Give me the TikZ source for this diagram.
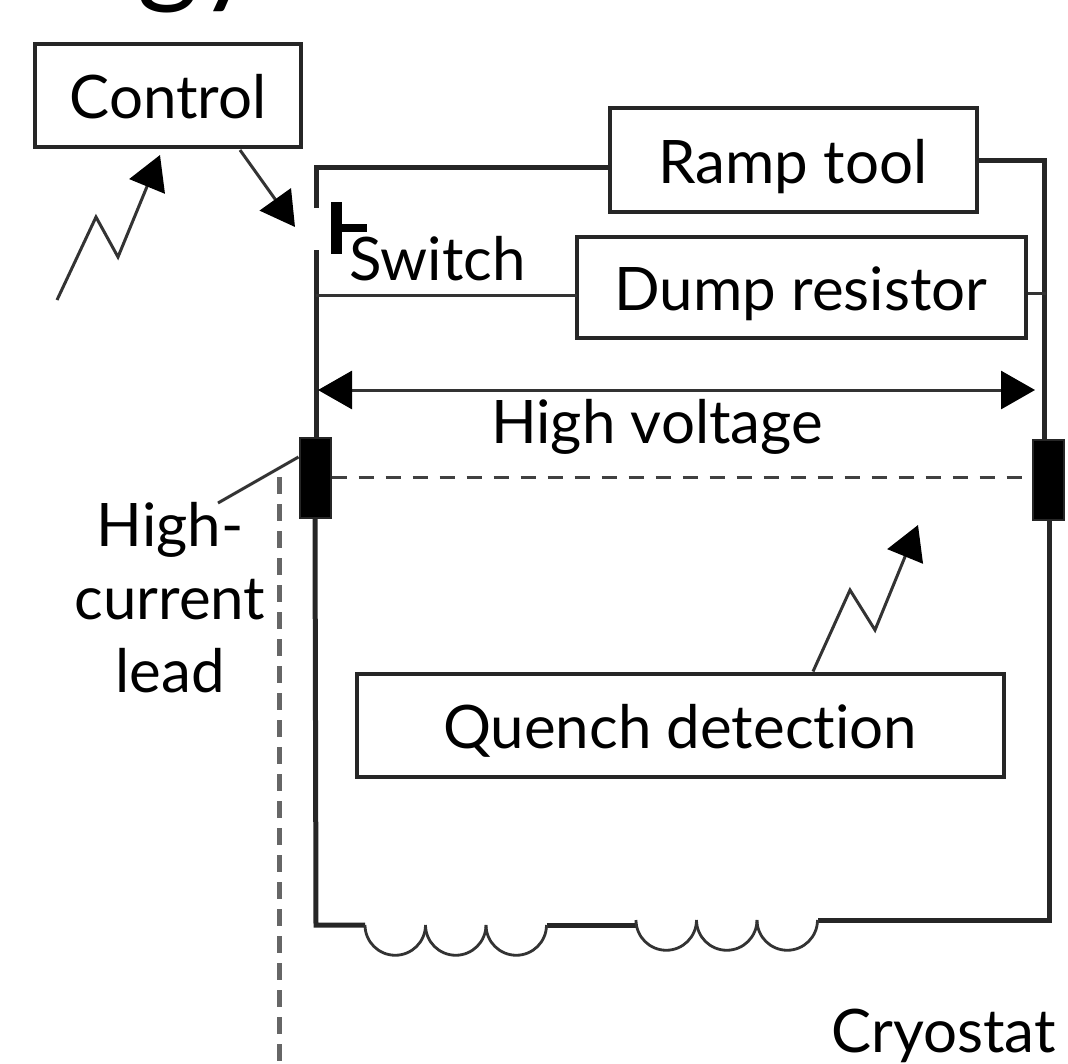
\documentclass[tikz,border=0pt]{standalone}
\usepackage{fontspec}
\setmainfont[Ligatures=NoCommon]{Lato}
\usetikzlibrary{arrows.meta,calc}
\tikzset{
  lbl/.style={inner sep=0pt,font=\fontsize{60}{73}\selectfont,align=center},
  boxnode/.style={draw=black!85,line width=4pt,inner sep=0pt,text height=46pt,text depth=0pt,font=\fontsize{60}{73}\selectfont},
  wire/.style={draw=black!85,line width=5pt},
  thinwire/.style={draw=black!80,line width=3pt},
  coilwire/.style={draw=black!80,line width=2.8pt},
  leadnode/.style={draw=black!85,fill=black,line width=2pt,inner sep=0pt,minimum width=31pt,minimum height=80pt},
  dashwire/.style={draw=black!75,line width=3pt,dash pattern=on 15pt off 12pt},
  dashlead/.style={draw=black!60,line width=5pt,dash pattern=on 17pt off 10pt},
  bigtip/.style={-{Triangle[length=34pt,width=38pt,color=black]}},
}
\begin{document}
\begin{tikzpicture}[x=1pt,y=1pt]
\useasboundingbox (0,0) rectangle (1068,-1063);
\pgfmathsetmacro{\kcoil}{60.5}
\node[overlay,inner sep=0pt,font=\fontsize{118}{118}\selectfont,anchor=base west](title) at (137,9){gy};
\node[boxnode,minimum width=266pt,minimum height=103pt](control) at (168,-95){Control};
\node[boxnode,minimum width=367pt,minimum height=104pt](ramptool) at (793,-160){Ramp tool};
\node[boxnode,minimum width=449pt,minimum height=101pt](dumpres) at (801,-287){Dump resistor};
\node[boxnode,minimum width=647pt,minimum height=103pt](quench) at (680,-725){Quench detection};
\node[leadnode](leadleft) at (315,-478){};
\node[leadnode](leadright) at (1048,-480){};
\node[lbl,anchor=base west](switchlbl) at (349,-280){Switch};
\node[lbl](hvlbl) at (657,-427){High voltage};
\node[lbl](leadlbl) at (170,-598){High-\\current\\lead};
\node[lbl,anchor=base east](cryolbl) at (1056,-1052){Cryostat};
\coordinate (topleft) at (316,-167);
\coordinate (swupper) at (316,-208);
\coordinate (swlower) at (316,-250);
\coordinate (botleft) at (316,-925);
\coordinate (topright) at (1044,-160);
\coordinate (botright) at (1049,-920);
\coordinate (coilA) at (365,-925);
\coordinate (coilB) at (636,-925);
\coordinate (coilC) at (636,-920);
%wires
\draw[wire](swupper)--(topleft)--(topleft-|ramptool.west);
\draw[wire](ramptool.east|-topright)--(topright)--(topright|-leadright.north);
\draw[wire](swlower)--(swlower|-leadleft.north);
\draw[wire](leadleft.south)--(botleft)--(coilA);
\draw[wire](leadright.south-|botright)--(botright)--($(coilC)+(3*\kcoil,0)$);
\draw[wire]($(coilA)+(3*\kcoil,0)$)--(coilB);
\draw[thinwire](swlower|-dumpres.west)++(0,-8)--++(261,0);
\draw[thinwire](dumpres.east)++(0,-6)--++(18,0);
\foreach \kx in {0,1,2}{\draw[coilwire]($(coilA)+(\kx*\kcoil,0)$)arc(180:360:\kcoil/2);}
\foreach \kx in {0,1,2}{\draw[coilwire]($(coilC)+(\kx*\kcoil,0)$)arc(180:360:\kcoil/2);}
%switch
\node[fill=black,inner sep=0pt,minimum width=11pt,minimum height=52pt](swbar) at (336,-228){};
\draw[line width=8pt](swbar.center)--++(31,0);
%dashed
\draw[dashwire](leadleft.east|-0,-477)--(leadright.west|-0,-477);
\draw[dashlead](279,-477)--(279,-1063);
\draw[thinwire](leadleft.west|-0,-457)--(218,-503);
%arrows
\coordinate (sparkA) at (57,-300);
\draw[thinwire,bigtip](sparkA)--(96,-217)--(118,-257)--(160,-155);
\draw[thinwire,bigtip](240,-150)--(295,-227);
\draw[thinwire,bigtip](quench.north-|813,0)--(850,-590)--(875,-630)--(918,-525);
\draw[thinwire,{Triangle[length=34pt,width=38pt,color=black]}-{Triangle[length=34pt,width=38pt,color=black]}](318,-390)--(1035,-390);
\end{tikzpicture}
\end{document}
